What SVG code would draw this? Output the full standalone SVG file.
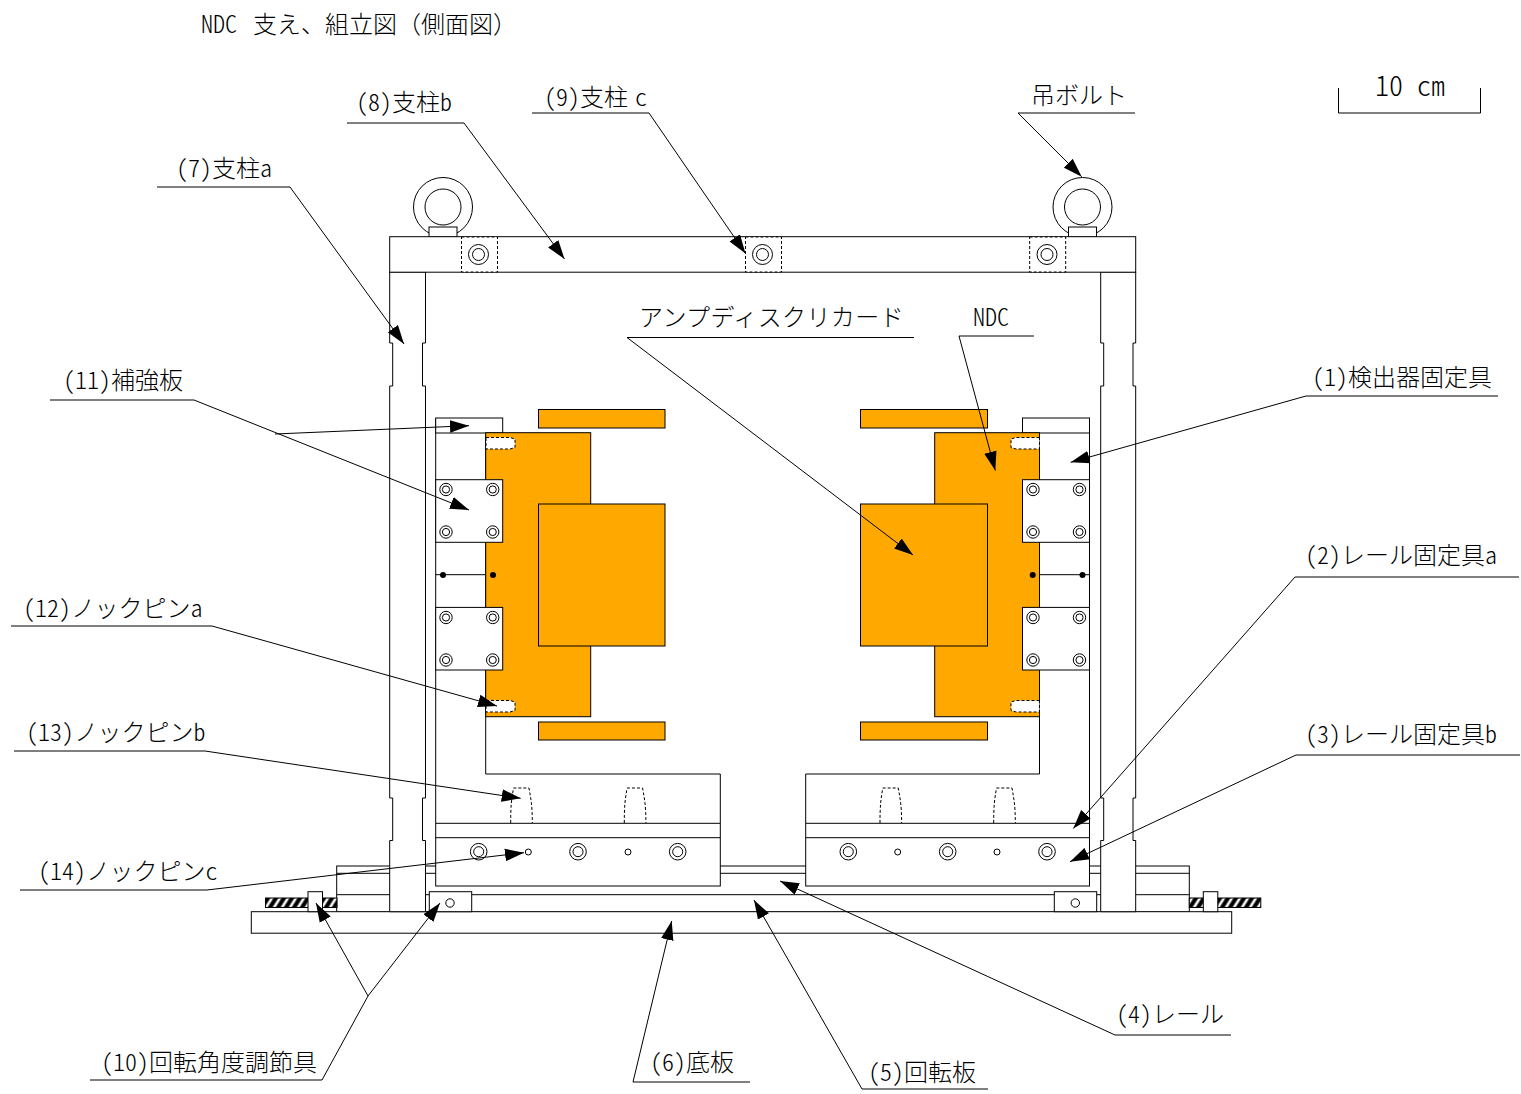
<svg xmlns="http://www.w3.org/2000/svg" xmlns:xlink="http://www.w3.org/1999/xlink" width="1521" height="1094" viewBox="0 0 1521 1094">
<style>
text{font-family:"Noto Sans CJK JP","Noto Sans CJK SC",sans-serif;font-size:24px;fill:#000;font-feature-settings:"hwid";font-weight:300}
.fw{font-feature-settings:normal}
.s{fill:#fff;stroke:#000;stroke-width:1}
.n{fill:none;stroke:#000;stroke-width:1}
.o{fill:#ffa800;stroke:#000;stroke-width:1}
.d{fill:#fff;stroke:#000;stroke-width:1;stroke-dasharray:3 2}
.dn{fill:none;stroke:#000;stroke-width:1;stroke-dasharray:3 2}
.l{fill:none;stroke:#000;stroke-width:1}
.a{marker-end:url(#arrow)}
</style>
<defs>
<marker id="arrow" markerUnits="userSpaceOnUse" markerWidth="20" markerHeight="14" refX="19" refY="7" orient="auto"><path d="M0 0.7L19 7L0 13.3Z" fill="#000"/></marker>
<pattern id="hatch" patternUnits="userSpaceOnUse" width="8" height="9.5" patternTransform="translate(265.5 898)"><rect width="8" height="9.5" fill="#000"/><path d="M-1 9.5L5 0L8 0L2 9.5Z M7 9.5L13 0L16 0L10 9.5Z" fill="#fff"/></pattern>
<g id="screw"><circle r="6.2" class="s"/><circle r="3.6" class="s"/></g>
<g id="bolt"><circle r="8.3" class="s"/><circle r="5" class="s"/></g>
<g id="beamBolt"><circle r="10" class="s"/><circle r="6" class="s"/></g>
</defs>
<rect width="1521" height="1094" fill="#fff"/>
<text id="title" x="201" y="33">NDC <tspan x="253">支え、組立図</tspan><tspan class="fw">（側面図）</tspan></text>
<g id="scale"><path class="n" d="M1338.5 88V113H1480.5V88"/><text x="1375" y="96" style="font-size:28px">10 cm</text></g>
<g id="rail-and-blocks">
<rect class="s" x="336.7" y="866" width="852.6" height="46"/>
<path class="n" d="M336.7 873.3H1189.3M336.7 894.7H1189.3"/>
</g>
<g id="base-plate"><rect class="s" x="251.3" y="911.7" width="980.4" height="21.5"/></g>
<g id="adjusters">
<rect x="265.5" y="898" width="71.5" height="9.5" fill="url(#hatch)" stroke="#000"/>
<rect x="1189.3" y="898" width="71.5" height="9.5" fill="url(#hatch)" stroke="#000"/>
<rect class="s" x="308" y="891.7" width="14.5" height="20"/>
<rect class="s" x="1203.3" y="891.7" width="14.5" height="20"/>
<rect class="s" x="429.3" y="891.7" width="42.4" height="20"/><circle class="s" cx="450" cy="903" r="4.2"/>
<rect class="s" x="1054.3" y="891.7" width="42.4" height="20"/><circle class="s" cx="1075.3" cy="903" r="4.2"/>
</g>
<g id="eye-bolts">
<circle class="s" cx="443" cy="207" r="29.5"/><circle class="s" cx="443" cy="207" r="18"/><rect class="s" x="429" y="227" width="28" height="10"/>
<circle class="s" cx="1082.5" cy="207" r="29.5"/><circle class="s" cx="1082.5" cy="207" r="18"/><rect class="s" x="1068.5" y="227" width="28" height="10"/>
</g>
<g id="column-a">
<path class="s" d="M389.7 272V343H392.7V386H389.7V798H392.7V840.5H389.7V911.7H425.5V840.5H422.5V798H425.5V386H422.5V343H425.5V272Z"/>
<path class="s" d="M1100.7 272V343H1103.7V386H1100.7V798H1103.7V840.5H1100.7V911.7H1135.7V840.5H1133V798H1135.7V386H1133V343H1135.7V272Z"/>
</g>
<g id="column-b">
<rect class="s" x="389.7" y="236.7" width="746" height="35.5"/>
</g>
<g id="column-c">
<rect class="d" x="461.5" y="237" width="36" height="35"/><use xlink:href="#beamBolt" href="#beamBolt" x="478.5" y="254.5"/>
<rect class="d" x="745.5" y="237" width="36" height="35"/><use xlink:href="#beamBolt" href="#beamBolt" x="762.5" y="254.5"/>
<rect class="d" x="1029.7" y="237" width="36" height="35"/><use xlink:href="#beamBolt" href="#beamBolt" x="1047" y="254.5"/>
</g>
<g id="detector-fixture">
<path class="n" d="M435.7 418V823M485.7 433V774H720.3V823"/>
<path class="n" d="M1089.5 418V823M1039.5 433V774H805.7V823"/>
<rect class="s" x="435.7" y="418" width="67" height="15"/>
<rect class="s" x="1022.5" y="418" width="67" height="15"/>
</g>
<g id="ndc-left">
<rect class="o" x="485.7" y="432.7" width="105" height="284"/>
<rect class="o" x="538.5" y="409.5" width="126.5" height="18.5"/>
<rect class="o" x="538.5" y="504" width="126.5" height="142"/>
<rect class="o" x="538.5" y="722" width="126.5" height="18"/>
<path class="d" d="M486 437.5H510L515 439V447.5L510 449H486Z"/>
<path class="d" d="M486 700.5H510L515 702V710.5L510 712H486Z"/>
</g>
<g id="ndc-right">
<rect class="o" x="934.7" y="432.7" width="104.8" height="284"/>
<rect class="o" x="860.5" y="409.5" width="127" height="18.5"/>
<rect class="o" x="860.5" y="504" width="127" height="142"/>
<rect class="o" x="860.5" y="722" width="127" height="18"/>
<path class="d" d="M1039.5 437.5H1016L1011 439V447.5L1016 449H1039.5Z"/>
<path class="d" d="M1039.5 700.5H1016L1011 702V710.5L1016 712H1039.5Z"/>
</g>
<g id="reinforcing-plates">
<rect class="s" x="435.7" y="479.7" width="67" height="62.6"/><rect class="s" x="435.7" y="607.4" width="67" height="62.6"/>
<rect class="s" x="1022.5" y="479.7" width="67" height="62.6"/><rect class="s" x="1022.5" y="607.4" width="67" height="62.6"/>
<use xlink:href="#screw" href="#screw" x="446" y="489.5"/><use xlink:href="#screw" href="#screw" x="492.7" y="489.5"/><use xlink:href="#screw" href="#screw" x="446" y="532"/><use xlink:href="#screw" href="#screw" x="492.7" y="532"/>
<use xlink:href="#screw" href="#screw" x="446" y="617.5"/><use xlink:href="#screw" href="#screw" x="492.7" y="617.5"/><use xlink:href="#screw" href="#screw" x="446" y="660"/><use xlink:href="#screw" href="#screw" x="492.7" y="660"/>
<use xlink:href="#screw" href="#screw" x="1033" y="489.5"/><use xlink:href="#screw" href="#screw" x="1079.5" y="489.5"/><use xlink:href="#screw" href="#screw" x="1033" y="532"/><use xlink:href="#screw" href="#screw" x="1079.5" y="532"/>
<use xlink:href="#screw" href="#screw" x="1033" y="617.5"/><use xlink:href="#screw" href="#screw" x="1079.5" y="617.5"/><use xlink:href="#screw" href="#screw" x="1033" y="660"/><use xlink:href="#screw" href="#screw" x="1079.5" y="660"/>
<path class="n" d="M435.7 574.7H485.7M1039.5 574.7H1089.5"/>
<circle cx="443" cy="575" r="3"/><circle cx="493" cy="575" r="3"/><circle cx="1032.7" cy="575" r="3"/><circle cx="1082.5" cy="575" r="3"/>
</g>
<g id="rail-fixtures">
<rect class="s" x="435.7" y="823.3" width="284.6" height="62.7"/><path class="n" d="M435.7 837.7H720.3"/>
<rect class="s" x="805.7" y="823.3" width="283.8" height="62.7"/><path class="n" d="M805.7 837.7H1089.5"/>
<use xlink:href="#bolt" href="#bolt" x="478.7" y="851.7"/><use xlink:href="#bolt" href="#bolt" x="578" y="851.7"/><use xlink:href="#bolt" href="#bolt" x="677.7" y="851.7"/>
<use xlink:href="#bolt" href="#bolt" x="848.3" y="851.7"/><use xlink:href="#bolt" href="#bolt" x="947.7" y="851.7"/><use xlink:href="#bolt" href="#bolt" x="1047" y="851.7"/>
<circle class="s" cx="528.3" cy="852" r="3"/><circle class="s" cx="628" cy="852" r="3"/><circle class="s" cx="897.7" cy="852" r="3"/><circle class="s" cx="997" cy="852" r="3"/>
<path class="dn" d="M510.7 823C510.7 805 511.5 800 513.5 788H529C531 800 532.3 805 532.3 823"/>
<path class="dn" d="M624.3 823C624.3 805 625.1 800 627.1 788H642.6C644.6 800 645.9 805 645.9 823"/>
<path class="dn" d="M880 823C880 805 880.8 800 882.8 788H898.3C900.3 800 901.6 805 901.6 823"/>
<path class="dn" d="M993.7 823C993.7 805 994.5 800 996.5 788H1012C1014 800 1015.3 805 1015.3 823"/>
</g>
<g id="connectors">
<path class="l a" d="M157 187H290L404 344"/>
<path class="l a" d="M347 123H464L564.5 259"/>
<path class="l a" d="M532 113H649L745.5 253.5"/>
<path class="l a" d="M1135 113H1018L1081.7 176.7"/>
<path class="l a" d="M914 337.5H627L913 555"/>
<path class="l a" d="M1034 336H959L995.3 470.5"/>
<path class="l a" d="M50 400H194L469 510"/>
<path class="l a" d="M275 434L469 425.7"/>
<path class="l a" d="M11 626H212L497 706"/>
<path class="l a" d="M14 751H205L520.7 798.3"/>
<path class="l a" d="M20 890H207L524 852.7"/>
<path class="l a" d="M1498 396H1306L1070.7 462.3"/>
<path class="l a" d="M1519 577H1295L1073.3 828.5"/>
<path class="l a" d="M1520 755H1296L1070 861.7"/>
<path class="l a" d="M1231 1035H1115L780 881"/>
<path class="l a" d="M988 1089H862L754 900"/>
<path class="l a" d="M750 1082H633L671.7 921"/>
<path class="l a" d="M90 1080H322L368 996L440 903"/>
<path class="l a" d="M368 996L316 903"/>
</g>
<g id="labels">
<text x="176" y="177">(7)支柱a</text>
<text x="356" y="111">(8)支柱b</text>
<text x="544" y="106">(9)支柱<tspan style="font-size:14px"> </tspan>c</text>
<text x="1031" y="104">吊ボルト</text>
<text x="639" y="326" style="letter-spacing:.4px">アンプディスクリカード</text>
<text x="973" y="326">NDC</text>
<text x="63" y="389">(11)補強板</text>
<text x="23" y="617">(12)ノックピンa</text>
<text x="26" y="741">(13)ノックピンb</text>
<text x="38" y="880">(14)ノックピンc</text>
<text x="1312" y="386">(1)検出器固定具</text>
<text x="1305" y="564">(2)レール固定具a</text>
<text x="1305" y="743">(3)レール固定具b</text>
<text x="1116" y="1023">(4)レール</text>
<text x="868" y="1081">(5)回転板</text>
<text x="650" y="1071">(6)底板</text>
<text x="101" y="1071">(10)回転角度調節具</text>
</g>
</svg>
